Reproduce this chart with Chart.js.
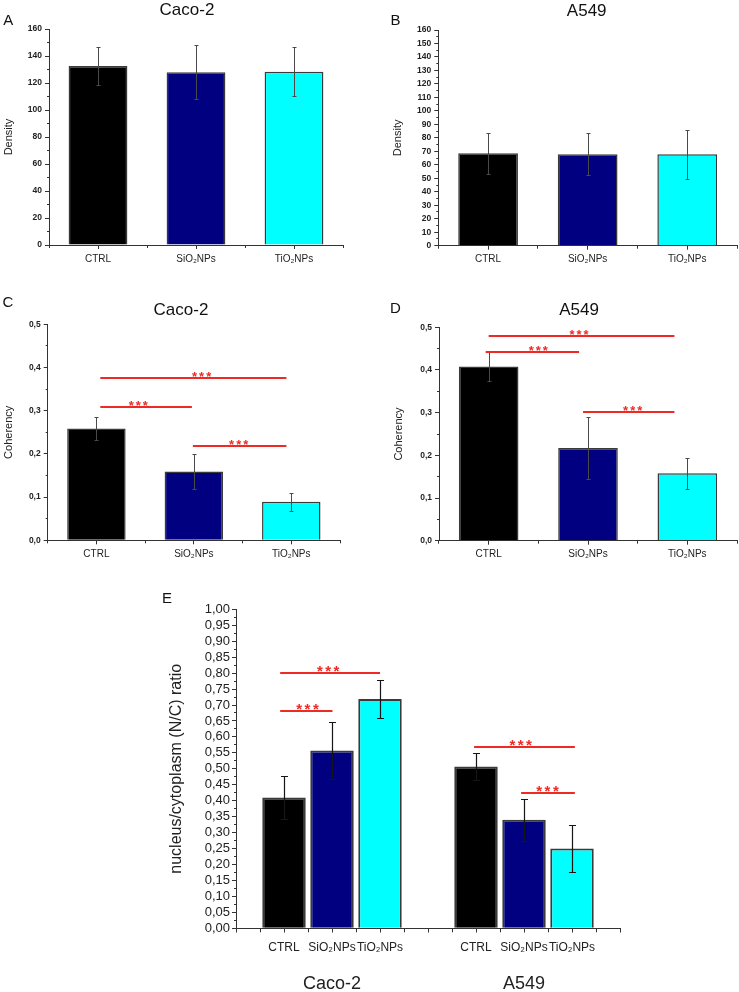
<!DOCTYPE html>
<html><head><meta charset="utf-8">
<script src="https://cdn.jsdelivr.net/npm/chart.js@4.4.1/dist/chart.umd.min.js"></script>
<style>
html,body{margin:0;padding:0;background:#fff;}
body{width:739px;height:992px;position:relative;overflow:hidden;font-family:'Liberation Sans',Arial,'DejaVu Sans',sans-serif;}
canvas{position:absolute;}
.t{position:absolute;white-space:nowrap;color:#111;line-height:1;z-index:2;}
.c{transform:translateX(-50%);}
</style></head><body>
<div class="t" style="left:3.3px;top:12.3px;font-size:15px">A</div>
<div class="t c" id="tA" style="left:187px;top:0.6px;font-size:17px"></div>
<div class="t" style="left:390.5px;top:12.3px;font-size:15px">B</div>
<div class="t c" id="tB" style="left:586.7px;top:2.1px;font-size:17px"></div>
<div class="t" style="left:2.6px;top:294.3px;font-size:15px">C</div>
<div class="t c" id="tC" style="left:181px;top:300.6px;font-size:17px"></div>
<div class="t" style="left:390px;top:300.3px;font-size:15px">D</div>
<div class="t c" id="tD" style="left:579px;top:300.6px;font-size:17px"></div>
<div class="t" style="left:162px;top:590.3px;font-size:15px">E</div>
<script>
// ---------------- DATA ----------------
const groups = ['CTRL', 'SiO\u2082NPs', 'TiO\u2082NPs'];
const cellLines = ['Caco-2', 'A549'];

const densityCaco2    = [132.6, 127.9, 128.4];
const densityCaco2Err = [14, 20, 18];
const densityA549     = [68.5, 67.8, 67.8];
const densityA549Err  = [15, 15.5, 18];

const coherencyCaco2    = [0.259, 0.159, 0.089];
const coherencyCaco2Err = [0.027, 0.040, 0.021];
const coherencyA549     = [0.408, 0.217, 0.158];
const coherencyA549Err  = [0.033, 0.073, 0.036];

const ncCaco2    = [0.410, 0.557, 0.719];
const ncCaco2Err = [0.068, 0.090, 0.060];
const ncA549     = [0.507, 0.340, 0.250];
const ncA549Err  = [0.042, 0.065, 0.075];

// significance bars: category-index span, height (data units), star position
const sigCoherencyCaco2 = [
  {from: 0.04, to: 1.95, y: 0.376, at: 1.08},
  {from: 0.04, to: 0.98, y: 0.309, at: 0.43},
  {from: 0.99, to: 1.95, y: 0.219, at: 1.46}
];
const sigCoherencyA549 = [
  {from: 0.00, to: 1.87, y: 0.480, at: 0.91},
  {from: -0.03, to: 0.91, y: 0.443, at: 0.50},
  {from: 0.95, to: 1.87, y: 0.302, at: 1.45}
];
const sigNC = [
  {from: 0.92, to: 3.00, y: 0.799, at: 1.92},
  {from: 0.92, to: 2.01, y: 0.681, at: 1.49},
  {from: 4.96, to: 7.06, y: 0.569, at: 5.93},
  {from: 5.94, to: 7.06, y: 0.425, at: 6.49}
];

// ---------------- STYLE ----------------
const FONT = "'Liberation Sans', Arial, 'DejaVu Sans', sans-serif";
const barColors = ['#000000', '#000080', '#00ffff'];
const AX = '#333333';
Chart.defaults.font.family = FONT;
Chart.defaults.color = '#222';

document.getElementById('tA').textContent = cellLines[0];
document.getElementById('tB').textContent = cellLines[1];
document.getElementById('tC').textContent = cellLines[0];
document.getElementById('tD').textContent = cellLines[1];

const errorBarPlugin = {
  id: 'errorBars',
  afterDatasetsDraw(chart, args, o) {
    if (!o || !o.errors) return;
    const ctx = chart.ctx, ys = chart.scales.y;
    const meta = chart.getDatasetMeta(0);
    const vals = chart.data.datasets[0].data;
    ctx.save();
    ctx.strokeStyle = o.color; ctx.lineWidth = o.width;
    meta.data.forEach((bar, i) => {
      const v = vals[i], e = o.errors[i];
      if (v == null || e == null) return;
      const x = Math.round(bar.x) + 0.5;
      const yt = Math.round(ys.getPixelForValue(v + e)) + 0.5;
      const yb = Math.round(ys.getPixelForValue(v - e)) + 0.5;
      const c = o.cap;
      ctx.beginPath();
      ctx.moveTo(x, yt); ctx.lineTo(x, yb);
      ctx.moveTo(x - c, yt); ctx.lineTo(x + c, yt);
      ctx.moveTo(x - c, yb); ctx.lineTo(x + c, yb);
      ctx.stroke();
    });
    ctx.restore();
  }
};

const sigPlugin = {
  id: 'sigLines',
  afterDatasetsDraw(chart, args, o) {
    if (!o || !o.items) return;
    const ctx = chart.ctx, xs = chart.scales.x, ys = chart.scales.y;
    ctx.save();
    ctx.strokeStyle = '#ee2a24'; ctx.fillStyle = '#ee2a24';
    ctx.lineWidth = 2;
    ctx.font = 'bold ' + o.size + 'px ' + FONT;
    ctx.textAlign = 'center'; ctx.textBaseline = 'alphabetic';
    try { ctx.letterSpacing = o.spacing + 'px'; } catch (e) {}
    o.items.forEach(s => {
      const xa = xs.getPixelForValue(s.from), xb = xs.getPixelForValue(s.to);
      const y = Math.round(ys.getPixelForValue(s.y));
      ctx.beginPath(); ctx.moveTo(xa, y); ctx.lineTo(xb, y); ctx.stroke();
      const xm = xs.getPixelForValue(s.at);
      ctx.fillText('***', xm + o.spacing / 2, y - o.gap + 0.575 * o.size);
    });
    ctx.restore();
  }
};

function makeCanvas(left, top, w, h) {
  const cv = document.createElement('canvas');
  cv.width = w; cv.height = h;
  cv.style.left = left + 'px'; cv.style.top = top + 'px';
  cv.style.width = w + 'px'; cv.style.height = h + 'px';
  document.body.appendChild(cv);
  return cv;
}

function smallPanel(p) {
  const cv = makeCanvas(p.left, p.top, p.w, p.h);
  const a = p.area;
  return new Chart(cv, {
    type: 'bar',
    data: {
      labels: groups,
      datasets: [{
        data: p.values,
        backgroundColor: barColors,
        borderColor: '#3a3a3a',
        borderWidth: 1.5,
        categoryPercentage: 1,
        barPercentage: 0.6
      }]
    },
    options: {
      responsive: false, animation: false, events: [],
      layout: { padding: { left: 0, top: a.t, right: p.w - a.r, bottom: 0 } },
      plugins: {
        legend: { display: false }, tooltip: { enabled: false },
        errorBars: { errors: p.errors, color: '#4a4a4a', width: 1, cap: 2 },
        sigLines: p.sig ? { items: p.sig, size: 13, spacing: 2, gap: 4.5 } : {}
      },
      scales: {
        x: {
          type: 'category', offset: true, weight: 0,
          grid: { offset: false, drawOnChartArea: false, tickLength: 4, color: AX },
          border: { color: AX, width: 1 },
          ticks: { font: { size: 10 }, color: '#222', padding: 4, maxRotation: 0, minRotation: 0, autoSkip: false },
          afterFit: s => { s.height = p.h - a.b; }
        },
        x2: {
          type: 'category', position: 'bottom', weight: -1, offset: true,
          grid: { offset: true, drawOnChartArea: false, tickLength: 3, color: AX },
          border: { display: false },
          ticks: { display: false },
          afterFit: s => { s.height = 0; }
        },
        y: {
          position: 'left', weight: 1, min: 0, max: p.max,
          ticks: { stepSize: p.step, autoSkip: false, font: { size: 8.5, weight: 'bold' }, color: '#222', padding: 3, callback: p.fmt },
          grid: { drawOnChartArea: false, tickLength: 4, color: AX },
          border: { color: AX, width: 1 },
          title: { display: true, text: p.ytitle, font: { size: 11 }, color: '#222', padding: { top: p.titlePad, bottom: 0 } },
          afterFit: s => { s.width = a.l; }
        },
        y2: {
          position: 'left', weight: 0, min: 0, max: p.max,
          ticks: { display: false, stepSize: p.minor, autoSkip: false },
          grid: { drawOnChartArea: false, tickLength: 2, color: AX },
          border: { display: false },
          afterFit: s => { s.width = 0; }
        }
      }
    },
    plugins: [errorBarPlugin, sigPlugin]
  });
}

const intFmt = v => String(Math.round(v));
const dec1 = v => v.toFixed(1).replace('.', ',');
const dec2 = v => v.toFixed(2).replace('.', ',');

// A
smallPanel({ left: 0, top: 0, w: 370, h: 275, area: { l: 49, t: 29, r: 343, b: 245 },
  values: densityCaco2, errors: densityCaco2Err, max: 160, step: 20, minor: 10,
  fmt: intFmt, ytitle: 'Density', titlePad: 2 });
// B
smallPanel({ left: 370, top: 0, w: 369, h: 275, area: { l: 68.3, t: 30, r: 367, b: 245.7 },
  values: densityA549, errors: densityA549Err, max: 160, step: 10, minor: 5,
  fmt: intFmt, ytitle: 'Density', titlePad: 21 });
// C
smallPanel({ left: 0, top: 280, w: 370, h: 300, area: { l: 47.7, t: 44.3, r: 340, b: 260.3 },
  values: coherencyCaco2, errors: coherencyCaco2Err, max: 0.5, step: 0.1, minor: 0.05,
  fmt: dec1, ytitle: 'Coherency', titlePad: 2, sig: sigCoherencyCaco2 });
// D
smallPanel({ left: 370, top: 280, w: 369, h: 300, area: { l: 69, t: 47.3, r: 367, b: 260.7 },
  values: coherencyA549, errors: coherencyA549Err, max: 0.5, step: 0.1, minor: 0.05,
  fmt: dec1, ytitle: 'Coherency', titlePad: 22.4, sig: sigCoherencyA549 });

// E (grouped: Caco-2 | A549)
(function () {
  const W = 479, H = 412;
  const a = { l: 76, t: 29.3, r: 460, b: 348.3 };
  const eLabels = [''].concat(groups, [''], groups, ['']);
  const eValues = [null].concat(ncCaco2, [null], ncA549, [null]);
  const eErrors = [null].concat(ncCaco2Err, [null], ncA549Err, [null]);
  const eColors = ['transparent'].concat(barColors, ['transparent'], barColors, ['transparent']);
  const minorSlots = new Array(16).fill('');
  const cv = makeCanvas(160, 580, W, H);
  new Chart(cv, {
    type: 'bar',
    data: {
      labels: eLabels,
      datasets: [{
        data: eValues, backgroundColor: eColors,
        borderColor: '#3a3a3a', borderWidth: 2,
        categoryPercentage: 1, barPercentage: 0.906
      }]
    },
    options: {
      responsive: false, animation: false, events: [],
      layout: { padding: { left: 0, top: a.t, right: W - a.r, bottom: 0 } },
      plugins: {
        legend: { display: false }, tooltip: { enabled: false },
        errorBars: { errors: eErrors, color: '#151515', width: 1.2, cap: 3.5 },
        sigLines: { items: sigNC, size: 15, spacing: 2.5, gap: 5.6 }
      },
      scales: {
        x: {
          type: 'category', offset: false, weight: 0,
          grid: { offset: false, drawOnChartArea: false, tickLength: 4, color: AX },
          border: { color: AX, width: 1 },
          ticks: { font: { size: 12 }, color: '#222', padding: 8.5, maxRotation: 0, minRotation: 0, autoSkip: false },
          afterFit: s => { s.height = 32; }
        },
        x2: {
          type: 'category', labels: minorSlots, position: 'bottom', weight: -1, offset: true,
          grid: { offset: true, drawOnChartArea: false, tickLength: 4, color: AX },
          border: { display: false },
          ticks: { display: false },
          afterFit: s => { s.height = 0; }
        },
        x3: {
          type: 'category', labels: cellLines, position: 'bottom', weight: 1, offset: true,
          grid: { display: false, drawTicks: false },
          border: { display: false },
          ticks: { font: { size: 18 }, color: '#222', padding: 12.9, maxRotation: 0, autoSkip: false },
          afterFit: s => { s.height = H - a.b - 32; }
        },
        y: {
          position: 'left', weight: 1, min: 0, max: 1,
          ticks: { stepSize: 0.05, autoSkip: false, font: { size: 13 }, color: '#222', padding: 2, callback: dec2 },
          grid: { drawOnChartArea: false, tickLength: 4, color: AX },
          border: { color: AX, width: 1 },
          title: { display: true, text: 'nucleus/cytoplasm (N/C) ratio', font: { size: 16 }, color: '#222', padding: { top: 7.1, bottom: 0 } },
          afterFit: s => { s.width = a.l; }
        },
        y2: {
          position: 'left', weight: 0, min: 0, max: 1,
          ticks: { display: false, stepSize: 0.025, autoSkip: false },
          grid: { drawOnChartArea: false, tickLength: 2, color: AX },
          border: { display: false },
          afterFit: s => { s.width = 0; }
        }
      }
    },
    plugins: [errorBarPlugin, sigPlugin]
  });
})();
</script>
</body></html>
